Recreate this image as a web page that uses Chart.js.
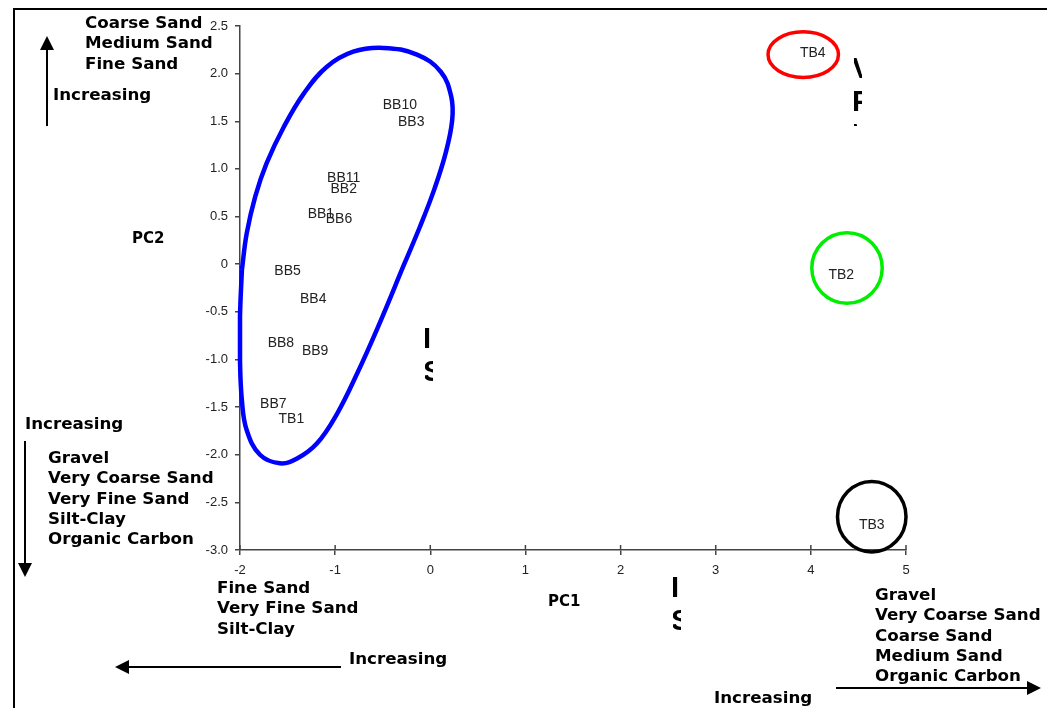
<!DOCTYPE html>
<html>
<head>
<meta charset="utf-8">
<script src="https://cdn.jsdelivr.net/npm/chart.js@4.4.1/dist/chart.umd.min.js"></script>
<style>
  html, body { margin: 0; padding: 0; background: #fff; }
  #wrap { position: relative; width: 1047px; height: 708px; overflow: hidden; }
  #frame { position: absolute; left: 13px; top: 8px; right: -10px; bottom: -10px;
           border-top: 2px solid #000; border-left: 2px solid #000; }
  canvas { position: absolute; left: 0; top: 0; }
  .note { position: absolute; font: bold 16.7px "DejaVu Sans"; line-height: 20.3px; color: #000; white-space: pre; }
  .pc { position: absolute; font: bold 15px "DejaVu Sans"; line-height: 20px; color: #000; }
  .frag { position: absolute; overflow: hidden; }
  .frag span { position: absolute; left: -2px; top: 0; font: bold 29px "Liberation Sans"; line-height: 33px; white-space: pre; color: #000; }
</style>
</head>
<body>
<div id="wrap">
  <div id="frame"></div>
  <canvas id="chart" width="1047" height="708"></canvas>

  <div class="note" style="left:85px; top:12px">Coarse Sand
Medium Sand
Fine Sand</div>
  <div class="note" style="left:53px; top:84px">Increasing</div>
  <div class="pc" style="left:132px; top:228px">PC2</div>
  <div class="note" style="left:25px; top:413px">Increasing</div>
  <div class="note" style="left:48px; top:447px">Gravel
Very Coarse Sand
Very Fine Sand
Silt-Clay
Organic Carbon</div>
  <div class="note" style="left:217px; top:577px">Fine Sand
Very Fine Sand
Silt-Clay</div>
  <div class="note" style="left:349px; top:648px">Increasing</div>
  <div class="pc" style="left:548px; top:591px">PC1</div>
  <div class="note" style="left:875px; top:584px">Gravel
Very Coarse Sand
Coarse Sand
Medium Sand
Organic Carbon</div>
  <div class="note" style="left:714px; top:687px">Increasing</div>

  <div class="frag" style="left:425px; top:322px; width:8px; height:64px"><span>I
S</span></div>
  <div class="frag" style="left:854px; top:52px; width:8px; height:74px"><span>V
P
V</span></div>
  <div class="frag" style="left:673px; top:571px; width:8px; height:64px"><span>I
S</span></div>
</div>

<script>
// sample scores
const sampleNames = ["BB10", "BB3", "BB11", "BB2", "BB1", "BB6", "BB5", "BB4", "BB8", "BB9", "BB7", "TB1", "TB4", "TB2", "TB3"]
const pc1 = [-0.32, -0.20, -0.91, -0.91, -1.15, -0.96, -1.50, -1.23, -1.57, -1.21, -1.65, -1.46, 4.02, 4.32, 4.64]
const pc2 = [1.67, 1.49, 0.90, 0.79, 0.53, 0.47, -0.07, -0.37, -0.83, -0.91, -1.47, -1.63, 2.21, -0.12, -2.74]

// hand-drawn group outline (BB sites), in PC units
const loopX = [-1.98, -1.93, -1.84, -1.72, -1.54, -1.33, -1.09, -0.81, -0.49, -0.14, 0.11, 0.22, 0.23, 0.16, 0.04, -0.11, -0.27, -0.55, -0.77, -0.98, -1.19, -1.40, -1.58, -1.79, -1.93, -1.98, -2.00, -2.00, -1.98]
const loopY = [-0.06, 0.32, 0.71, 1.06, 1.44, 1.79, 2.07, 2.23, 2.27, 2.20, 2.02, 1.76, 1.51, 1.16, 0.78, 0.39, 0.01, -0.66, -1.15, -1.57, -1.88, -2.04, -2.09, -2.00, -1.74, -1.43, -1.01, -0.55, -0.06]

// circles round TB4, TB2, TB3
const ringX = [3.92, 4.38, 4.64]
const ringY = [2.20, -0.04, -2.65]
const ringRX = [0.37, 0.37, 0.36]
const ringRY = [0.24, 0.37, 0.37]
const ringColors = ["#ff0000", "#00ee00", "#000000"]

const xTickLabels = ["-2", "-1", "0", "1", "2", "3", "4", "5"]
const yTickLabels = ["-3.0", "-2.5", "-2.0", "-1.5", "-1.0", "-0.5", "0", "0.5", "1.0", "1.5", "2.0", "2.5"]

const axisColor = "#444"

function arrow(ctx, x1, y1, x2, y2) {
  const a = Math.atan2(y2 - y1, x2 - x1)
  const len = 14, half = 7
  const bx = x2 - len * Math.cos(a), by = y2 - len * Math.sin(a)
  ctx.beginPath()
  ctx.moveTo(x1, y1)
  ctx.lineTo(bx, by)
  ctx.stroke()
  ctx.beginPath()
  ctx.moveTo(x2, y2)
  ctx.lineTo(bx + half * Math.sin(a), by - half * Math.cos(a))
  ctx.lineTo(bx - half * Math.sin(a), by + half * Math.cos(a))
  ctx.closePath()
  ctx.fill()
}

const overlay = {
  id: "overlay",
  afterDatasetsDraw(chart) {
    const { ctx, scales: { x, y } } = chart
    ctx.save()

    // rings
    ctx.lineWidth = 3.5
    ringX.forEach((cx, i) => {
      const px = x.getPixelForValue(cx)
      const py = y.getPixelForValue(ringY[i])
      const rx = x.getPixelForValue(cx + ringRX[i]) - px
      const ry = py - y.getPixelForValue(ringY[i] + ringRY[i])
      ctx.strokeStyle = ringColors[i]
      ctx.beginPath()
      ctx.ellipse(px, py, rx, ry, 0, 0, Math.PI * 2)
      ctx.stroke()
    })

    // sample labels
    ctx.fillStyle = "#222"
    ctx.font = '14px "Liberation Sans"'
    ctx.textAlign = "center"
    ctx.textBaseline = "middle"
    sampleNames.forEach((name, i) => {
      ctx.fillText(name, x.getPixelForValue(pc1[i]), y.getPixelForValue(pc2[i]))
    })

    // x ticks cross the axis
    ctx.strokeStyle = axisColor
    ctx.lineWidth = 1.5
    const yb = chart.chartArea.bottom
    x.ticks.forEach(t => {
      const px = x.getPixelForValue(t.value)
      ctx.beginPath()
      ctx.moveTo(px, yb - 5)
      ctx.lineTo(px, yb)
      ctx.stroke()
    })

    // direction arrows
    ctx.strokeStyle = "#000"
    ctx.fillStyle = "#000"
    ctx.lineWidth = 2
    arrow(ctx, 47, 126, 47, 36)
    arrow(ctx, 25, 441, 25, 577)
    arrow(ctx, 341, 667, 115, 667)
    arrow(ctx, 836, 688, 1041, 688)

    ctx.restore()
  }
}

new Chart(document.getElementById("chart"), {
  data: {
    datasets: [
      {
        type: "line",
        data: loopX.map((v, i) => ({ x: v, y: loopY[i] })),
        borderColor: "#0000ff",
        borderWidth: 4.5,
        tension: 0.4,
        pointRadius: 0,
        fill: false,
        clip: false
      },
      {
        type: "scatter",
        data: pc1.map((v, i) => ({ x: v, y: pc2[i] })),
        pointRadius: 0,
        pointHoverRadius: 0
      }
    ]
  },
  options: {
    responsive: false,
    animation: false,
    events: [],
    layout: { padding: { top: 26, right: 141, left: 0, bottom: 0 } },
    plugins: {
      legend: { display: false },
      tooltip: { enabled: false }
    },
    scales: {
      x: {
        type: "linear",
        min: -2,
        max: 5,
        afterFit: s => { s.height = 158 },
        border: { color: axisColor, width: 1.5 },
        grid: { drawOnChartArea: false, tickLength: 5, color: axisColor, lineWidth: 1.5 },
        ticks: {
          stepSize: 1,
          padding: 8,
          maxRotation: 0,
          autoSkip: false,
          color: "#222",
          font: { family: "Liberation Sans", size: 13 },
          callback: (v, i) => xTickLabels[i]
        }
      },
      y: {
        type: "linear",
        min: -3,
        max: 2.5,
        afterFit: s => { s.width = 240 },
        border: { color: axisColor, width: 1.5 },
        grid: { drawOnChartArea: false, tickLength: 5, color: axisColor, lineWidth: 1.5 },
        ticks: {
          stepSize: 0.5,
          padding: 7,
          autoSkip: false,
          color: "#222",
          font: { family: "Liberation Sans", size: 13 },
          callback: (v, i) => yTickLabels[i]
        }
      }
    }
  },
  plugins: [overlay]
})
</script>
</body>
</html>
